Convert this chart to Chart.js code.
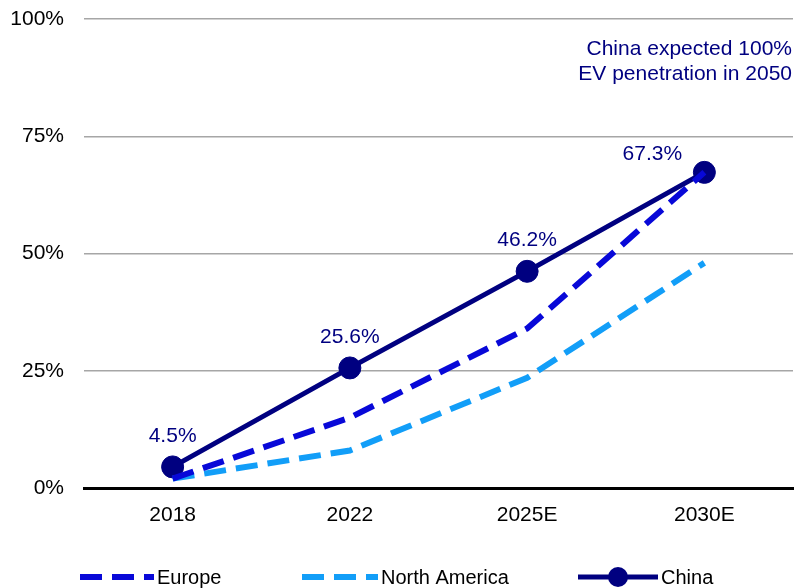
<!DOCTYPE html>
<html>
<head>
<meta charset="utf-8">
<script src="https://cdn.jsdelivr.net/npm/chart.js@4"></script>
<style>
  html, body { margin: 0; padding: 0; background: #fff; }
  #wrap { width: 796px; height: 588px; }
</style>
</head>
<body>
<div id="wrap"><canvas id="evChart" width="796" height="588"></canvas></div>
<script>
// EV penetration by region
const years = ['2018', '2022', '2025E', '2030E'];
const europe = [2, 15, 34, 67.3];
const northAmerica = [2, 8, 23.5, 48];
const china = [4.5, 25.6, 46.2, 67.3];
const yTicks = [0, 25, 50, 75, 100];
const noteLines = ['China expected 100%', 'EV penetration in 2050'];

const FONT = 'Liberation Sans, Arial, sans-serif';
const NAVY = '#000080';

// value labels above the China markers (last one sits up-left of the point)
const chinaLabels = {
    id: 'chinaLabels',
    afterDatasetsDraw(chart) {
        const ctx = chart.ctx;
        const meta = chart.getDatasetMeta(2);
        ctx.save();
        ctx.font = '21px ' + FONT;
        ctx.fillStyle = NAVY;
        ctx.textAlign = 'center';
        ctx.textBaseline = 'middle';
        meta.data.forEach((pt, i) => {
            const last = i === meta.data.length - 1;
            const dx = last ? -52 : 0;
            const dy = last ? -18 : -31;
            ctx.fillText(china[i].toFixed(1) + '%', pt.x + dx, pt.y + dy);
        });
        // note in the top right corner
        ctx.textAlign = 'right';
        noteLines.forEach((line, i) => ctx.fillText(line, 792, 49 + i * 25));
        ctx.restore();
    }
};

// legend row along the bottom edge
const bottomLegend = {
    id: 'bottomLegend',
    afterDraw(chart) {
        const ctx = chart.ctx;
        const y = 577;
        const items = [
            { ds: 0, x0: 80, x1: 154 },
            { ds: 1, x0: 302, x1: 378 },
            { ds: 2, x0: 578, x1: 658 }
        ];
        ctx.save();
        items.forEach(it => {
            const ds = chart.data.datasets[it.ds];
            ctx.strokeStyle = ds.borderColor;
            ctx.lineWidth = ds.borderWidth;
            ctx.setLineDash(ds.borderDash || []);
            ctx.beginPath();
            ctx.moveTo(it.x0, y);
            ctx.lineTo(it.x1, y);
            ctx.stroke();
            ctx.setLineDash([]);
            if (ds.pointRadius > 0) {
                ctx.fillStyle = ds.pointBackgroundColor;
                ctx.beginPath();
                ctx.arc((it.x0 + it.x1) / 2, y, 10, 0, Math.PI * 2);
                ctx.fill();
            }
            ctx.fillStyle = '#000';
            ctx.font = '20px ' + FONT;
            ctx.textAlign = 'left';
            ctx.textBaseline = 'middle';
            ctx.fillText(ds.label, it.x1 + 3, y + 1);
        });
        ctx.restore();
    }
};

new Chart(document.getElementById('evChart'), {
    type: 'line',
    data: {
        labels: years,
        datasets: [
            {
                label: 'Europe',
                data: europe,
                borderColor: '#0808d8',
                borderWidth: 6,
                borderDash: [22, 10],
                pointRadius: 0,
                tension: 0
            },
            {
                label: 'North America',
                data: northAmerica,
                borderColor: '#129ef8',
                borderWidth: 6,
                borderDash: [22, 10],
                pointRadius: 0,
                tension: 0
            },
            {
                label: 'China',
                data: china,
                borderColor: NAVY,
                borderWidth: 5,
                pointRadius: 11,
                pointBackgroundColor: NAVY,
                pointBorderColor: NAVY,
                pointBorderWidth: 1,
                tension: 0
            }
        ]
    },
    options: {
        responsive: false,
        animation: false,
        layout: { autoPadding: false, padding: { top: 19, right: 3, left: 0, bottom: 0 } },
        plugins: {
            legend: { display: false },
            tooltip: { enabled: false }
        },
        scales: {
            x: {
                offset: true,
                grid: { display: false },
                border: { color: '#000', width: 3 },
                ticks: { color: '#000', font: { family: FONT, size: 21 }, padding: 7 },
                afterFit(scale) {
                    scale.height = 100;
                    scale.paddingLeft = 0;
                    scale.paddingRight = 0;
                }
            },
            y: {
                min: 0,
                max: 100,
                afterBuildTicks(scale) { scale.ticks = yTicks.map(v => ({ value: v })); },
                grid: {
                    drawTicks: false,
                    color: ctx => ctx.tick && ctx.tick.value === 0 ? 'rgba(0,0,0,0)' : '#a6a6a6',
                    lineWidth: 1.5
                },
                border: { display: false },
                ticks: {
                    color: '#000',
                    font: { family: FONT, size: 21 },
                    padding: 20,
                    callback: v => v + '%'
                },
                afterFit(scale) {
                    scale.width = 84;
                    scale.paddingTop = 0;
                    scale.paddingBottom = 0;
                }
            }
        }
    },
    plugins: [chinaLabels, bottomLegend]
});
</script>
</body>
</html>
